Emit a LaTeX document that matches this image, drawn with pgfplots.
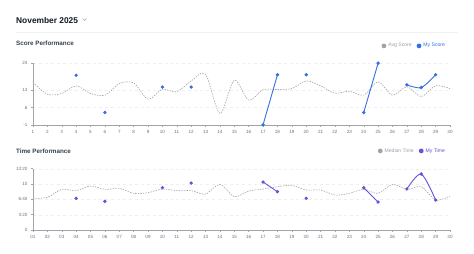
\documentclass[border=0pt]{standalone}
\usepackage{fontspec}
\setmainfont{Liberation Sans}
\usepackage{pgfplots}
\pgfplotsset{compat=1.18}
\definecolor{avgc}{HTML}{A3A3A3}
\definecolor{legg}{HTML}{9CA3AF}
\definecolor{scorec}{HTML}{3370E0}
\definecolor{timec}{HTML}{6B4FD8}
\definecolor{tickc}{HTML}{6B7280}
\definecolor{axc}{HTML}{A0A4AB}
\definecolor{titc}{HTML}{111827}
\definecolor{subc}{HTML}{374151}
\pgfplotsset{
  perf/.style={
    scale only axis, width=417bp, xmin=1, xmax=30,
    axis x line=bottom, axis y line=left,
    axis line style={-, draw=axc, line width=0.5bp},
    xtick={1,...,30},
    tick style={draw=axc, line width=0.4bp}, major tick length=2bp, tick align=outside,
    ticklabel style={font=\fontsize{4.6}{5}\selectfont, text=tickc},
    /pgf/number format/assume math mode=true,
    ymajorgrids, grid style={draw=gray!13, dashed, line width=0.3bp},
    clip=false,
    unbounded coords=jump,
    legend style={draw=none, fill=none, font=\fontsize{5.1}{6}\selectfont,
      legend columns=2, /tikz/every even column/.append style={column sep=3bp},
      inner sep=0pt, anchor=east},
    legend image code/.code={\fill[draw=none] (0.15em,0) circle (2.4bp);},
  }
}
\begin{document}
\begin{tikzpicture}[x=1bp,y=1bp]
\useasboundingbox[fill=white] (0,0) rectangle (474,253);
\node[anchor=base west, inner sep=0pt, text=titc, font=\fontsize{8.4}{10}\selectfont\bfseries] at (16,230) {November 2025};
\draw[gray!70, line width=0.5bp] (82.5,234.5) -- (84.5,232.5) -- (86.5,234.5);
\draw[gray!12, line width=0.5bp] (16,221) -- (458,221);
\node[anchor=base west, inner sep=0pt, text=subc, font=\fontsize{6.3}{7}\selectfont\bfseries] at (16,207.5) {Score Performance};
\node[anchor=base west, inner sep=0pt, text=subc, font=\fontsize{6.3}{7}\selectfont\bfseries] at (16,100) {Time Performance};

\begin{axis}[perf, at={(33bp,130.7bp)}, anchor=origin, height=61.6bp,
  ymin=-1, ymax=24, ytick={-1,6,13,24},
  legend style={at={(0.993,1.28)}}]
\addplot[avgc, dash pattern=on 1.4bp off 1.2bp, line width=0.6bp, smooth, no marks] coordinates {
(1,16.2) (2,11.4) (3,11.7) (4,14.8) (5,11.7) (6,11.0) (7,15.7) (8,16.0) (9,9.4) (10,13.4)
(11,12.4) (12,16.8) (13,19.5) (14,3.6) (15,17.1) (16,9.0) (17,13.2) (18,13.3) (19,13.7) (20,16.8)
(21,14.8) (22,11.8) (23,12.6) (24,11.0) (25,16.4) (26,11.0) (27,14.4) (28,10.5) (29,14.8) (30,13.7)};
\addlegendentry{\textcolor{legg}{Avg Score}}
\addplot[scorec, line width=0.9bp, smooth, mark=*, mark size=1.2bp] coordinates {
(4,19.1) (5,nan) (6,4.0) (7,nan) (10,14.3) (11,nan) (12,14.3) (13,nan)
(17,-1) (18,19.3) (19,nan) (20,19.3) (21,nan) (24,4.0) (25,24) (26,nan)
(27,15.2) (28,14.1) (29,19.3)};
\addlegendentry{\textcolor{scorec}{My Score}}
\end{axis}

\begin{axis}[perf, at={(33bp,23bp)}, anchor=origin, height=61.3bp,
  ymin=0, ymax=800, ytick={0,200,400,600,800},
  yticklabels={0,3:20,6:40,10,13:20},
  xticklabels={01,02,03,04,05,06,07,08,09,10,11,12,13,14,15,16,17,18,19,20,21,22,23,24,25,26,27,28,29,30},
  legend style={at={(0.993,1.29)}}]
\addplot[avgc, dash pattern=on 1.4bp off 1.2bp, line width=0.6bp, smooth, no marks] coordinates {
(1,413) (2,426) (3,530) (4,513) (5,574) (6,530) (7,543) (8,478) (9,487) (10,535)
(11,513) (12,513) (13,469) (14,596) (15,435) (16,509) (17,535) (18,565) (19,583) (20,522)
(21,522) (22,456) (23,478) (24,530) (25,478) (26,596) (27,530) (28,565) (29,391) (30,443)};
\addlegendentry{\textcolor{legg}{Median Time}}
\addplot[timec, line width=0.9bp, smooth, mark=*, mark size=1.2bp] coordinates {
(4,413) (5,nan) (6,374) (7,nan) (10,552) (11,nan) (12,613) (13,nan)
(17,626) (18,500) (19,nan) (20,413) (21,nan) (24,552) (25,365) (26,nan)
(27,535) (28,730) (29,391)};
\addlegendentry{\textcolor{timec}{My Time}}
\end{axis}
\end{tikzpicture}
\end{document}
